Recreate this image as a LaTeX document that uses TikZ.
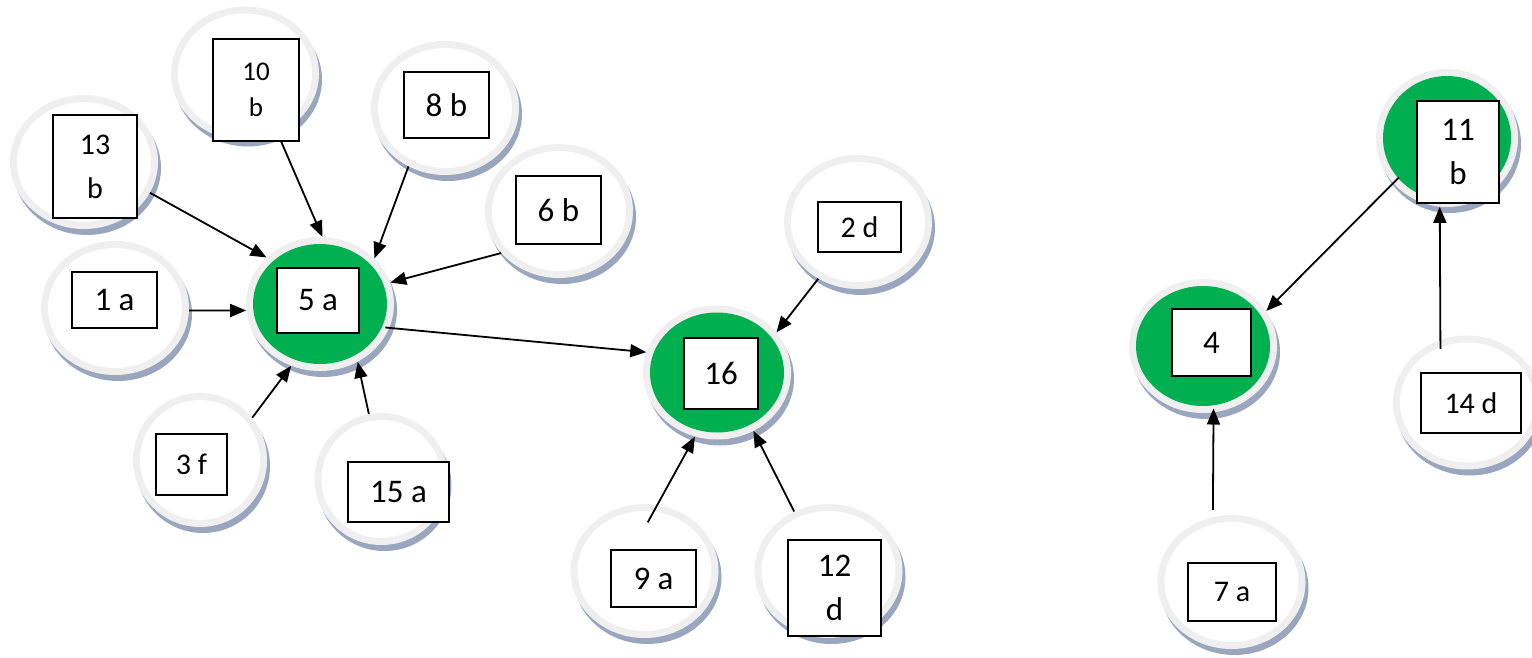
\documentclass[tikz,border=0pt]{standalone}
\usepackage{fontspec}
\setmainfont{Carlito}
\usetikzlibrary{arrows.meta,shapes.geometric,shadows,calc}
\definecolor{ringc}{HTML}{EFEFEF}
\definecolor{shadc}{HTML}{9AA6BE}
\definecolor{greenc}{HTML}{00B050}
\tikzset{
  bub/.style={ellipse, minimum width=148pt, minimum height=134pt, inner sep=0pt,
    fill=ringc, draw=none,
    drop shadow={shadow xshift=3pt, shadow yshift=-6pt, fill=shadc, opacity=1},
    path picture={\fill[#1] let \p1=(path picture bounding box.north east),
      \p2=(path picture bounding box.center) in
      (\p2) ellipse ({\x1-\x2-7pt} and {\y1-\y2-7pt});}},
  bub/.default=white,
  lbl/.style={draw=black, line width=1.7pt, fill=white, inner sep=0pt, align=center,
    font=\fontsize{33}{44}\selectfont},
  smalllbl/.style={font=\fontsize{30}{44}\selectfont},
  conn/.style={line width=1.8pt, -{Triangle[length=16pt,width=13pt]}},
}
\begin{document}
\begin{tikzpicture}[x=1pt,y=-1pt]
\useasboundingbox (0,0) rectangle (1532,658);
% bubbles
\node[bub] (n13) at (84,162) {};
\node[bub] (n10) at (245,73.5) {};
\node[bub] (n8) at (445,108) {};
\node[bub] (n6) at (559,211) {};
\node[bub] (n1) at (115,308) {};
\node[bub=greenc] (n5) at (320,304) {};
\node[bub, minimum width=134pt, minimum height=134pt] (n3) at (200,460) {};
\node[bub, minimum width=134pt, minimum height=132pt] (n15) at (381.5,479) {};
\node[bub] (n2) at (858,222) {};
\node[bub=greenc] (n16) at (717,372.5) {};
\node[bub] (n9) at (644.5,571) {};
\node[bub] (n12) at (828.5,571) {};
\node[bub=greenc] (n4) at (1203,346) {};
\node[bub=greenc, minimum width=142pt, minimum height=138pt] (n11) at (1447,138) {};
\node[bub] (n14) at (1467,402.5) {};
\node[bub] (n7) at (1231.5,582) {};
% boxes
\node[lbl, smalllbl, minimum width=84pt, minimum height=103pt] (b13) at (95,166.5) {13\\b};
\node[lbl, font=\fontsize{27}{36}\selectfont, minimum width=86pt, minimum height=102pt] (b10) at (256,90) {10\\b};
\node[lbl, minimum width=85pt, minimum height=66pt] (b8) at (446.5,105) {8 b};
\node[lbl, minimum width=85pt, minimum height=68pt] (b6) at (558.5,210) {6 b};
\node[lbl, minimum width=85pt, minimum height=56pt] (b1) at (114.5,300) {1 a};
\node[lbl, minimum width=82pt, minimum height=65pt] (b5) at (318,300.5) {5 a};
\node[lbl, smalllbl, minimum width=71pt, minimum height=61pt] (b3) at (191.5,464.5) {3 f};
\node[lbl, minimum width=101pt, minimum height=60pt] (b15) at (398.5,492) {15 a};
\node[lbl, smalllbl, minimum width=83pt, minimum height=50pt] (b2) at (859.5,227) {2 d};
\node[lbl, minimum width=74pt, minimum height=71pt] (b16) at (721,373.5) {16};
\node[lbl, minimum width=85pt, minimum height=57pt] (b9) at (653.5,578.5) {9 a};
\node[lbl, minimum width=93pt, minimum height=96pt] (b12) at (834.5,588) {12\\d};
\node[lbl, minimum width=79pt, minimum height=67pt] (b4) at (1211.5,342.5) {4};
\node[lbl, minimum width=82pt, minimum height=102pt] (b11) at (1458,152) {11\\b};
\node[lbl, smalllbl, minimum width=100pt, minimum height=60pt] (b14) at (1471,403) {14 d};
\node[lbl, smalllbl, minimum width=88pt, minimum height=58pt] (b7) at (1232,592) {7 a};
% connectors
\draw[conn] (n13.-25.6) -- (n5.139.5);
\draw[conn] (b10.-64.8) -- (n5.88);
\draw[conn] (n8.-122) -- (n5.40);
\draw[conn] (n6.-144.4) -- (n5.17.5);
\draw[conn] (n1.-2) -- (n5.185);
\draw[conn] (n3.39.4) -- (n5.-115.5);
\draw[conn] (n15.101.1) -- (n5.-57.8);
\draw[conn, shorten <=-4pt] (n5.-19.1) -- (n16.164.3);
\draw[conn] (n2.-125) -- (n16.34.8);
\draw[conn, shorten <=-20pt] (n9.79) -- (n16.-109);
\draw[conn] (n12.120) -- (n16.-58.2);
\draw[conn, shorten <=-8pt] (n11.-140.7) -- (n4.29.2);
\draw[conn, shorten <=-9pt] (n14.113.5) -- (n11.-96.3);
\draw[conn, shorten <=7pt, shorten >=-4pt] (n7.106.6) -- (n4.-81.6);
\end{tikzpicture}
\end{document}
